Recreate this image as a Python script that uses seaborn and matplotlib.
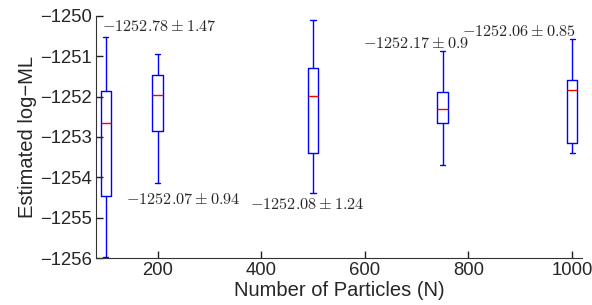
"""
Boxplots of estimated log-ML against number of particles
"""
import numpy as np
import pandas as pd
import seaborn as sns
import matplotlib.pyplot as plt


PARTICLES = [100, 200, 500, 750, 1000]
WHISKER_LO = [-1255.98, -1254.13, -1254.38, -1253.70, -1253.41]
Q1 = [-1254.47, -1252.86, -1253.41, -1252.65, -1253.14]
MEDIAN = [-1252.66, -1251.96, -1251.98, -1252.31, -1251.83]
Q3 = [-1251.85, -1251.46, -1251.28, -1251.89, -1251.58]
WHISKER_HI = [-1250.53, -1250.94, -1250.10, -1250.86, -1250.58]

MEANS = ['-1252.78', '-1252.07', '-1252.08', '-1252.17', '-1252.06']
STDS = ['1.47', '0.94', '1.24', '0.9', '0.85']

# where each mean/std label sits (data coords, left edge / vertical centre)
LABEL_POS = [(93, -1250.26), (139, -1254.55), (378, -1254.67),
             (596, -1250.68), (788, -1250.38)]

sns.set_style("ticks")
plt.rcParams['font.family'] = ['Liberation Sans', 'DejaVu Sans']
plt.rcParams['mathtext.fontset'] = 'cm'


def plot_logml(out_path):
    rows = []
    for i, n in enumerate(PARTICLES):
        for v in (WHISKER_LO[i], Q1[i], MEDIAN[i], Q3[i], WHISKER_HI[i]):
            rows.append({'N': n, 'logml': v})
    df = pd.DataFrame(rows)

    fig = plt.figure(figsize=(5.92, 3.05), dpi=100)
    ax = fig.add_axes([0.162, 0.154, 0.821, 0.794])
    sns.boxplot(
        data=df, x='N', y='logml', ax=ax,
        native_scale=True, whis=np.inf, fill=False, color='blue',
        width=0.2, linewidth=1,
        medianprops=dict(color='red', linewidth=1),
    )

    for (x, y), m, s in zip(LABEL_POS, MEANS, STDS):
        ax.text(x, y, r'$%s \pm %s$' % (m, s), fontsize=11.7,
                ha='left', va='center')

    ax.set_xlim(81, 1019)
    ax.set_ylim(-1256, -1250)
    ax.set_xticks([200, 400, 600, 800, 1000])
    ax.set_yticks(range(-1256, -1249))
    ax.set_yticklabels(['\u2212%d' % -t for t in range(-1256, -1249)])
    ax.set_xlabel('Number of Particles (N)', fontsize=14.5)
    ax.set_ylabel('Estimated log\u2212ML', fontsize=14.5)
    ax.xaxis.set_label_coords(0.5, -0.093)
    ax.yaxis.set_label_coords(-0.121, 0.5)
    for side in ['left', 'bottom']:
        ax.spines[side].set_color('#333333')
        ax.spines[side].set_linewidth(0.8)
    sns.despine(ax=ax)
    # inward MATLAB-style ticks
    ax.tick_params(axis='both', direction='in', labelsize=13.3, length=5,
                   width=1, color='#222222', pad=3)

    fig.savefig(out_path, dpi=100)
    return ax


plot_logml('out.png')
